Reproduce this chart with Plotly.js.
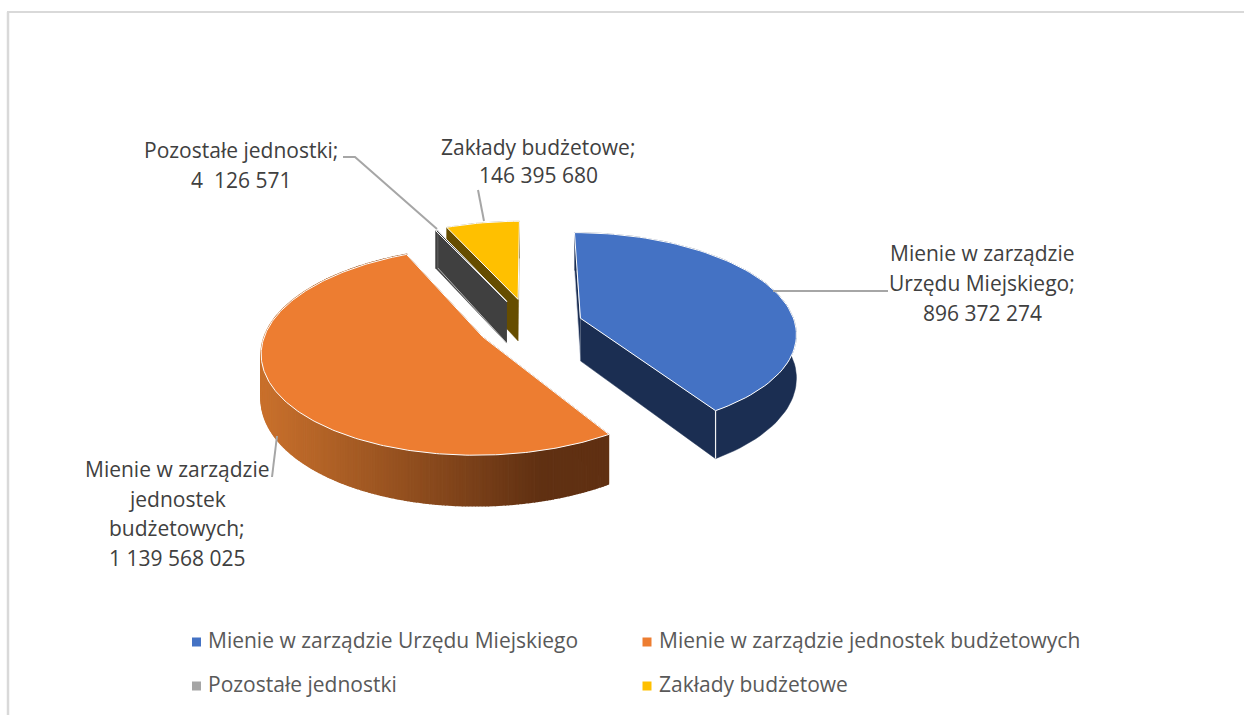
<!DOCTYPE html>
<html><head><meta charset="utf-8">
<script src="https://cdn.plot.ly/plotly-3.0.1.min.js"></script>
<style>html,body{margin:0;padding:0;background:#fff}#c{width:1244px;height:715px}</style>
</head><body><div id="c"></div>
<script>
const categories = ["Mienie w zarządzie Urzędu Miejskiego","Mienie w zarządzie jednostek budżetowych","Pozostałe jednostki","Zakłady budżetowe"];
const values = [896372274, 1139568025, 4126571, 146395680];
const colors = ["#4472C4","#ED7D31","#A5A5A5","#FFC000"];
const topColors = ["#4472C4","#ED7D31","#404040","#FFC000"];
const wallColors = ["#1B2E52","#7A4318","#404040","#664D00"];
const labelLines = [
  ["Mienie w zarządzie","Urzędu Miejskiego;","896 372 274"],
  ["Mienie w zarządzie","jednostek","budżetowych;","1 139 568 025"],
  ["Pozostałe jednostki;","4  126 571"],
  ["Zakłady budżetowe;","146 395 680"]
];
const labelAnchorX = [982,177,241,538];
const labelFirstY = [253,469,150,147];
const labelStep = [30,29.5,30,28];
const leaders = [
  [[773,888],[291,291]],
  [[277,272],[436,477]],
  [[343,355,437],[157,157,229]],
  [[478,484],[190,221]]
];
const legendX = [196.5,647,196.5,647];
const legendTextX = [208,659,208,659];
const legendY = [642,642,686,686];

// 3D pie projection
const CX=530, CY=325, S=0.46, K=0.135, DEPTH=43, RW=215;
const RADIUS=[215,215,201,205], EXPLODE=[53,53,58,59];
function proj(X,Y,z){const w=1/(1-K*Y/RW);return [CX+X*w, CY+S*Y*w+z*w];}
const total=values.reduce((a,b)=>a+b,0);
const rad=d=>d*Math.PI/180;
let data=[];
function poly(pts,fill,line,lw){
  data.push({type:'scatter',mode:'lines',x:pts.map(p=>p[0]),y:pts.map(p=>p[1]),fill:'toself',fillcolor:fill,
    line:{color:line||fill,width:lw===undefined?0.5:lw},hoverinfo:'skip',showlegend:false});
}
function lerp(a,b,t){return a.map((v,i)=>Math.round(v+(b[i]-v)*t));}
let acc=0; const slices=values.map((v,i)=>{const a0=acc/total*360;acc+=v;const a1=acc/total*360;return {i,a0,a1};});
function drawSlice(s){
  const mid=rad((s.a0+s.a1)/2), e=EXPLODE[s.i], R=RADIUS[s.i];
  const ox=e*Math.sin(mid), oy=-e*Math.cos(mid);
  const at=(deg,r,z)=>{const t=rad(deg);return proj(ox+r*Math.sin(t),oy-r*Math.cos(t),z);};
  const n=Math.max(3,Math.round((s.a1-s.a0)/(s.i==1?0.75:2)));
  const arcAng=[];for(let j=0;j<=n;j++)arcAng.push(s.a0+(s.a1-s.a0)*j/n);
  const wc=wallColors[s.i];
  // radial walls
  poly([at(s.a0,0,0),at(s.a0,R,0),at(s.a0,R,DEPTH),at(s.a0,0,DEPTH)],wc,s.i==0?'#dfe4ee':wc,s.i==0?0.7:0.5);
  poly([at(s.a1,0,0),at(s.a1,R,0),at(s.a1,R,DEPTH),at(s.a1,0,DEPTH)],wc,s.i==2?'#d8d8d8':wc,s.i==2?0.8:0.5);
  // outer wall
  if(s.i==1){
    for(let j=0;j<n;j++){
      const p=[at(arcAng[j],R,0),at(arcAng[j+1],R,0),at(arcAng[j+1],R,DEPTH),at(arcAng[j],R,DEPTH)];
      const sx=(p[0][0]+p[1][0])/2;
      const t=Math.min(1,Math.max(0,(sx-265)/(540-265)));
      const c=lerp([200,112,44],[96,48,18],t);
      const col=`rgb(${c[0]},${c[1]},${c[2]})`;
      poly(p,col,col,1.5);
    }
  } else {
    const up=arcAng.map(a=>at(a,R,0)), dn=arcAng.slice().reverse().map(a=>at(a,R,DEPTH));
    poly(up.concat(dn),wc,wc,0.5);
    if(s.i==0){const a=s.a1;const p=[at(a,R,0),at(a,R,DEPTH)];
      data.push({type:'scatter',mode:'lines',x:p.map(q=>q[0]),y:p.map(q=>q[1]),line:{color:'#f2f2f2',width:1.2},hoverinfo:'skip',showlegend:false});}
  }
  // top face
  const top=[at(s.a0,0,0)].concat(arcAng.map(a=>at(a,R,0)));top.push(top[0]);
  poly(top,topColors[s.i],'#ffffff',1);
}
// painter's order: back slices first
[3,2,1,0].forEach(i=>drawSlice(slices[i]));

// leader lines
leaders.forEach(l=>data.push({type:'scatter',mode:'lines',x:l[0],y:l[1],line:{color:'#A6A6A6',width:2},hoverinfo:'skip',showlegend:false}));

// legend
data.push({type:'scatter',mode:'markers',x:legendX,y:legendY,marker:{symbol:'square',size:9,color:colors},hoverinfo:'skip',showlegend:false});
data.push({type:'scatter',mode:'text',x:legendTextX,y:legendY.map(v=>v+1),text:categories,textposition:'middle right',
  textfont:{family:'"Open Sans",sans-serif',size:21,color:'#595959'},hoverinfo:'skip',showlegend:false});

// data labels
const annotations=[];
labelLines.forEach((ls,i)=>ls.forEach((t,j)=>annotations.push({x:labelAnchorX[i],y:labelFirstY[i]+j*labelStep[i],xref:'x',yref:'y',
  text:t,showarrow:false,xanchor:'center',yanchor:'middle',font:{family:'"Open Sans",sans-serif',size:21,color:'#404040'}})));

const frame=[
 {type:'line',xref:'x',yref:'y',x0:8,x1:8,y0:12,y1:715,line:{color:'#D9D9D9',width:2.5}},
 {type:'line',xref:'x',yref:'y',x0:7,x1:1244,y0:12,y1:12,line:{color:'#D9D9D9',width:2}}
];
Plotly.newPlot('c',data,{
  width:1244,height:715,margin:{l:0,r:0,t:0,b:0},paper_bgcolor:'#fff',plot_bgcolor:'#fff',
  xaxis:{range:[0,1244],visible:false,fixedrange:true},
  yaxis:{range:[715,0],visible:false,fixedrange:true},
  showlegend:false,shapes:frame,annotations:annotations
},{displayModeBar:false,staticPlot:true});
</script></body></html>
